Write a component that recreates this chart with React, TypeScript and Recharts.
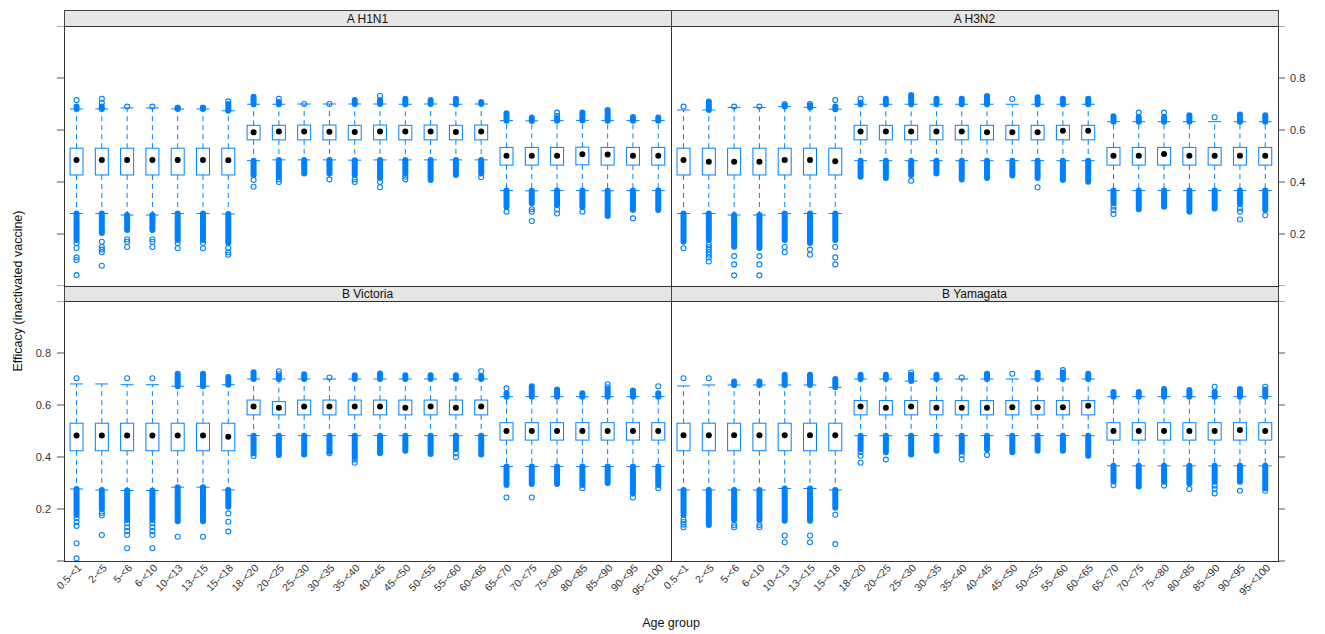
import React from "react";
import { ComposedChart, Bar, XAxis, YAxis } from "recharts";

const AGE_GROUPS = [
  "0.5-<1", "2-<5", "5-<6", "6-<10", "10-<13", "13-<15", "15-<18",
  "18-<20", "20-<25", "25-<30", "30-<35", "35-<40", "40-<45", "45-<50",
  "50-<55", "55-<60", "60-<65", "65-<70", "70-<75", "75-<80", "80-<85",
  "85-<90", "90-<95", "95-<100",
];

const PANEL_TITLES = ["A H1N1", "A H3N2", "B Victoria", "B Yamagata"];
const Y_TICKS = [0, 0.2, 0.4, 0.6, 0.8, 1];

// [lower whisker, Q1, median, Q3, upper whisker]
type Stat = [number, number, number, number, number];

const H1N1_STATS: Stat[] = [
  [0.279, 0.427, 0.485, 0.53, 0.681], [0.279, 0.427, 0.485, 0.53, 0.681],
  [0.273, 0.427, 0.485, 0.53, 0.685], [0.273, 0.427, 0.485, 0.53, 0.685],
  [0.279, 0.427, 0.485, 0.53, 0.681], [0.279, 0.427, 0.485, 0.53, 0.681],
  [0.277, 0.427, 0.484, 0.53, 0.674],
  [0.482, 0.562, 0.591, 0.618, 0.699], [0.485, 0.562, 0.594, 0.618, 0.699],
  [0.485, 0.562, 0.594, 0.619, 0.7], [0.485, 0.562, 0.593, 0.619, 0.7],
  [0.484, 0.562, 0.592, 0.618, 0.7], [0.485, 0.562, 0.594, 0.619, 0.7],
  [0.485, 0.562, 0.594, 0.618, 0.699], [0.485, 0.562, 0.594, 0.619, 0.7],
  [0.485, 0.562, 0.592, 0.618, 0.699], [0.485, 0.562, 0.594, 0.619, 0.7],
  [0.367, 0.465, 0.501, 0.533, 0.636], [0.366, 0.465, 0.501, 0.533, 0.635],
  [0.367, 0.465, 0.501, 0.533, 0.636], [0.367, 0.466, 0.507, 0.534, 0.637],
  [0.366, 0.465, 0.506, 0.533, 0.636], [0.367, 0.465, 0.501, 0.533, 0.636],
  [0.367, 0.465, 0.501, 0.533, 0.636],
];
// [end of dense low outlier band, end of dense high outlier band]
const H1N1_BANDS: [number, number][] = [
  [0.177, 0.69], [0.204, 0.69], [0.215, 0.688], [0.215, 0.688], [0.177, 0.686],
  [0.177, 0.686], [0.165, 0.7], [0.427, 0.728], [0.42, 0.708], [0.433, 0.703],
  [0.433, 0.703], [0.427, 0.715], [0.415, 0.715], [0.433, 0.72], [0.408, 0.715],
  [0.427, 0.72], [0.433, 0.708], [0.305, 0.664], [0.318, 0.648], [0.311, 0.645],
  [0.305, 0.667], [0.269, 0.677], [0.292, 0.65], [0.292, 0.648],
];
const H1N1_POINTS: number[][] = [
  [0.715, 0.165, 0.146, 0.11, 0.1, 0.042], [0.72, 0.705, 0.17, 0.15, 0.14, 0.13, 0.078],
  [0.69, 0.18, 0.17, 0.15], [0.69, 0.18, 0.17, 0.15], [0.685, 0.165, 0.145],
  [0.685, 0.165, 0.145], [0.71, 0.146, 0.13, 0.12], [0.408, 0.382],
  [0.72, 0.41, 0.4], [0.7], [0.7, 0.41], [0.41, 0.4], [0.731, 0.4, 0.38],
  [0.42, 0.41], [], [], [0.418], [0.286], [0.295, 0.286, 0.25],
  [0.667, 0.654, 0.294, 0.279], [0.286], [], [0.26], [],
];

const H3N2_STATS: Stat[] = [
  [0.279, 0.427, 0.485, 0.53, 0.677], [0.279, 0.427, 0.478, 0.53, 0.677],
  [0.273, 0.427, 0.478, 0.53, 0.687], [0.273, 0.427, 0.478, 0.53, 0.687],
  [0.279, 0.427, 0.485, 0.53, 0.69], [0.279, 0.427, 0.485, 0.53, 0.687],
  [0.279, 0.427, 0.48, 0.53, 0.68],
  [0.482, 0.562, 0.594, 0.618, 0.699], [0.482, 0.562, 0.594, 0.618, 0.699],
  [0.482, 0.562, 0.594, 0.618, 0.699], [0.482, 0.562, 0.594, 0.618, 0.699],
  [0.482, 0.562, 0.594, 0.618, 0.699], [0.482, 0.562, 0.591, 0.618, 0.699],
  [0.482, 0.562, 0.591, 0.618, 0.699], [0.482, 0.562, 0.591, 0.618, 0.699],
  [0.482, 0.562, 0.597, 0.618, 0.699], [0.482, 0.562, 0.597, 0.618, 0.699],
  [0.367, 0.465, 0.501, 0.533, 0.632], [0.367, 0.465, 0.501, 0.533, 0.632],
  [0.367, 0.465, 0.508, 0.533, 0.632], [0.367, 0.465, 0.501, 0.533, 0.632],
  [0.367, 0.465, 0.501, 0.533, 0.632], [0.367, 0.465, 0.501, 0.533, 0.632],
  [0.367, 0.465, 0.501, 0.533, 0.632],
];
const H3N2_BANDS: [number, number][] = [
  [0.17, 0.677], [0.177, 0.71], [0.151, 0.687], [0.146, 0.687], [0.177, 0.695],
  [0.165, 0.695], [0.177, 0.69], [0.42, 0.705], [0.415, 0.72], [0.427, 0.735],
  [0.433, 0.72], [0.41, 0.72], [0.415, 0.728], [0.425, 0.699], [0.415, 0.726],
  [0.408, 0.72], [0.401, 0.72], [0.318, 0.653], [0.295, 0.65], [0.305, 0.65],
  [0.286, 0.657], [0.298, 0.632], [0.315, 0.66], [0.292, 0.657],
];
const H3N2_POINTS: number[][] = [
  [0.69, 0.145], [0.16, 0.15, 0.14, 0.13, 0.12, 0.11, 0.094],
  [0.69, 0.115, 0.083, 0.041], [0.69, 0.115, 0.083, 0.041], [0.7, 0.15, 0.13],
  [0.7, 0.14, 0.12], [0.715, 0.15, 0.11, 0.083], [0.72], [], [0.405], [], [],
  [0.731], [0.719], [0.38], [], [], [0.305, 0.292, 0.277], [0.667], [0.667], [],
  [0.649], [0.298, 0.286, 0.256], [0.272],
];

const VICTORIA_STATS: Stat[] = [
  [0.277, 0.424, 0.483, 0.53, 0.681], [0.273, 0.424, 0.483, 0.53, 0.681],
  [0.271, 0.424, 0.483, 0.53, 0.678], [0.271, 0.424, 0.483, 0.53, 0.678],
  [0.284, 0.424, 0.483, 0.53, 0.672], [0.284, 0.424, 0.483, 0.53, 0.672],
  [0.273, 0.424, 0.478, 0.53, 0.678],
  [0.482, 0.562, 0.594, 0.619, 0.7], [0.482, 0.562, 0.589, 0.613, 0.7],
  [0.482, 0.562, 0.594, 0.619, 0.7], [0.482, 0.562, 0.594, 0.619, 0.7],
  [0.482, 0.562, 0.594, 0.619, 0.7], [0.482, 0.562, 0.594, 0.619, 0.7],
  [0.482, 0.562, 0.589, 0.619, 0.7], [0.482, 0.562, 0.594, 0.619, 0.7],
  [0.482, 0.562, 0.589, 0.619, 0.7], [0.482, 0.562, 0.594, 0.619, 0.7],
  [0.363, 0.465, 0.5, 0.532, 0.632], [0.363, 0.465, 0.5, 0.532, 0.632],
  [0.363, 0.465, 0.5, 0.532, 0.632], [0.363, 0.465, 0.5, 0.532, 0.632],
  [0.363, 0.465, 0.5, 0.532, 0.632], [0.363, 0.465, 0.5, 0.532, 0.632],
  [0.363, 0.465, 0.5, 0.532, 0.632],
];
const VICTORIA_BANDS: [number, number][] = [
  [0.177, 0.681], [0.2, 0.681], [0.158, 0.678], [0.158, 0.678], [0.153, 0.72],
  [0.153, 0.72], [0.209, 0.708], [0.414, 0.726], [0.408, 0.712], [0.41, 0.718],
  [0.42, 0.7], [0.4, 0.714], [0.414, 0.721], [0.424, 0.714], [0.412, 0.714],
  [0.43, 0.714], [0.41, 0.712], [0.292, 0.645], [0.296, 0.672], [0.296, 0.66],
  [0.292, 0.645], [0.3, 0.66], [0.26, 0.656], [0.292, 0.645],
];
const VICTORIA_POINTS: number[][] = [
  [0.703, 0.165, 0.15, 0.135, 0.068, 0.01], [0.185, 0.175, 0.1],
  [0.703, 0.145, 0.13, 0.115, 0.1, 0.049], [0.703, 0.145, 0.13, 0.115, 0.1, 0.049],
  [0.093], [0.093], [0.183, 0.151, 0.113], [0.404], [0.73, 0.718], [],
  [0.706, 0.414], [0.39, 0.378], [], [], [], [0.414, 0.4], [0.73],
  [0.664, 0.244], [0.244], [], [0.28], [0.68, 0.668], [0.244], [0.672, 0.28],
];

const YAMAGATA_STATS: Stat[] = [
  [0.273, 0.424, 0.484, 0.53, 0.673], [0.273, 0.424, 0.484, 0.53, 0.677],
  [0.273, 0.424, 0.484, 0.53, 0.677], [0.273, 0.424, 0.484, 0.53, 0.677],
  [0.279, 0.424, 0.484, 0.53, 0.677], [0.279, 0.424, 0.484, 0.53, 0.677],
  [0.273, 0.424, 0.484, 0.53, 0.668],
  [0.482, 0.562, 0.594, 0.617, 0.7], [0.482, 0.562, 0.589, 0.617, 0.7],
  [0.482, 0.562, 0.594, 0.617, 0.692], [0.482, 0.562, 0.589, 0.617, 0.7],
  [0.482, 0.562, 0.589, 0.617, 0.7], [0.482, 0.562, 0.589, 0.617, 0.7],
  [0.482, 0.562, 0.591, 0.617, 0.7], [0.482, 0.562, 0.591, 0.617, 0.7],
  [0.482, 0.562, 0.591, 0.617, 0.7], [0.482, 0.562, 0.597, 0.617, 0.7],
  [0.366, 0.465, 0.5, 0.532, 0.632], [0.366, 0.465, 0.5, 0.532, 0.632],
  [0.366, 0.465, 0.5, 0.532, 0.632], [0.366, 0.465, 0.5, 0.532, 0.632],
  [0.366, 0.465, 0.5, 0.532, 0.632], [0.366, 0.465, 0.504, 0.532, 0.632],
  [0.366, 0.465, 0.5, 0.532, 0.632],
];
const YAMAGATA_BANDS: [number, number][] = [
  [0.177, 0.673], [0.138, 0.677], [0.158, 0.69], [0.158, 0.69], [0.155, 0.716],
  [0.155, 0.716], [0.205, 0.7], [0.43, 0.716], [0.418, 0.716], [0.41, 0.716],
  [0.424, 0.716], [0.42, 0.7], [0.43, 0.72], [0.418, 0.7], [0.424, 0.724],
  [0.424, 0.725], [0.405, 0.72], [0.306, 0.65], [0.287, 0.65], [0.305, 0.662],
  [0.298, 0.658], [0.305, 0.65], [0.305, 0.662], [0.28, 0.66],
];
const YAMAGATA_POINTS: number[][] = [
  [0.703, 0.16, 0.15, 0.14, 0.13], [0.703], [0.138, 0.13], [0.138, 0.13],
  [0.098, 0.072], [0.098, 0.072], [0.178, 0.065], [0.418, 0.405, 0.378],
  [0.39], [0.725], [], [0.706, 0.408, 0.39], [0.408], [0.72], [], [0.734], [],
  [0.291], [], [0.29], [0.277], [0.67, 0.29, 0.277, 0.26], [0.27], [0.67, 0.27],
];

const BLUE = "#0080ff";
const FONT = "'Liberation Sans', Arial, Helvetica, sans-serif";

function buildRows(stats: Stat[], bands: [number, number][], points: number[][]) {
  return AGE_GROUPS.map((age, i) => {
    const s = stats[i];
    const b = bands[i];
    const p = points[i];
    const all = [s[0], s[4], b[0], b[1], ...p];
    return {
      age,
      range: [Math.min(...all), Math.max(...all)],
      stats: s,
      band: b,
      points: p,
    };
  });
}

const BoxShape = (props: any) => {
  const { x, y, width, height } = props;
  const d = props.payload ?? props;
  if (!d || !d.range) return <g />;
  const [vMin, vMax] = d.range;
  const top = Math.min(y, y + height);
  const bottom = Math.max(y, y + height);
  const py = (v: number) => bottom - ((v - vMin) / (vMax - vMin)) * (bottom - top);
  const cx = x + width / 2;
  const hw = 6.5;
  const [wLo, q1, med, q3, wHi] = d.stats;
  const [bLo, bHi] = d.band;
  return (
    <g>
      <line x1={cx} x2={cx} y1={py(q3)} y2={py(wHi)} stroke={BLUE} strokeDasharray="5 4" />
      <line x1={cx} x2={cx} y1={py(q1)} y2={py(wLo)} stroke={BLUE} strokeDasharray="5 4" />
      <line x1={cx - hw} x2={cx + hw} y1={py(wHi)} y2={py(wHi)} stroke={BLUE} />
      <line x1={cx - hw} x2={cx + hw} y1={py(wLo)} y2={py(wLo)} stroke={BLUE} />
      {bLo < wLo - 0.003 && (
        <line x1={cx} x2={cx} y1={py(wLo)} y2={py(bLo)} stroke={BLUE} strokeWidth={6} strokeLinecap="round" />
      )}
      {bHi > wHi + 0.003 && (
        <line x1={cx} x2={cx} y1={py(wHi)} y2={py(bHi)} stroke={BLUE} strokeWidth={6} strokeLinecap="round" />
      )}
      {d.points.map((v: number, k: number) => (
        <circle key={k} cx={cx} cy={py(v)} r={2.5} fill="none" stroke={BLUE} strokeWidth={1.1} />
      ))}
      <rect x={cx - hw} y={py(q3)} width={hw * 2} height={py(q1) - py(q3)} fill="#fff" stroke={BLUE} />
      <circle cx={cx} cy={py(med)} r={3} fill="#000" />
    </g>
  );
};

const XTick = (props: any) => {
  const { x, y, payload } = props;
  return (
    <g transform={`translate(${x + 3},${y})`}>
      <text transform="rotate(-45)" textAnchor="end" dy="0.35em" fontSize={10.5} fill="#333" fontFamily={FONT}>
        {payload.value}
      </text>
    </g>
  );
};

const makeYTick = (show: boolean, side: "left" | "right") => (props: any) => {
  const { x, y, payload } = props;
  const v = payload.value;
  if (!show || v === 0 || v === 1) return <g />;
  return (
    <text x={x} y={y} dy={4} textAnchor={side === "left" ? "end" : "start"} fontSize={11} fill="#333" fontFamily={FONT}>
      {v.toFixed(1)}
    </text>
  );
};

const PW = 607;
const PH = 260;
const AXW = 40;

function Panel(props: { rows: any[]; left: number; top: number; side: "left" | "right"; showY: boolean; showX: boolean }) {
  const { rows, left, top, side, showY, showX } = props;
  // keep AXW of room on both sides so rotated labels are never clipped
  const width = PW + AXW * 2;
  const height = PH + (showX ? 60 : 0);
  const chartLeft = left - AXW;
  const margin = side === "left"
    ? { top: 0, right: AXW, bottom: 0, left: 0 }
    : { top: 0, right: 0, bottom: 0, left: AXW };
  return (
    <div style={{ position: "absolute", left: chartLeft, top, width, height }}>
      <ComposedChart width={width} height={height} data={rows} margin={margin} barCategoryGap="10%" style={{ overflow: "visible" }}>
        <XAxis dataKey="age" hide={!showX} interval={0} tick={<XTick />} tickLine={false} axisLine={false} height={60} tickSize={0} tickMargin={5} />
        <YAxis
          orientation={side}
          width={AXW}
          type="number"
          domain={[0, 1]}
          ticks={Y_TICKS}
          interval={0}
          tick={makeYTick(showY, side)}
          tickLine={{ stroke: "#555" }}
          tickSize={7}
          tickMargin={side === "left" ? 6 : 5}
          axisLine={false}
          allowDataOverflow
        />
        <Bar dataKey="range" shape={BoxShape} isAnimationActive={false} />
      </ComposedChart>
    </div>
  );
}

const h1n1Rows = buildRows(H1N1_STATS, H1N1_BANDS, H1N1_POINTS);
const h3n2Rows = buildRows(H3N2_STATS, H3N2_BANDS, H3N2_POINTS);
const victoriaRows = buildRows(VICTORIA_STATS, VICTORIA_BANDS, VICTORIA_POINTS);
const yamagataRows = buildRows(YAMAGATA_STATS, YAMAGATA_BANDS, YAMAGATA_POINTS);

const L1 = 64;
const L2 = 671;
const T1 = 26;
const T2 = 301;

export default function App() {
  const strips = [
    { x: L1, y: 10, h: 16, t: PANEL_TITLES[0] },
    { x: L2, y: 10, h: 16, t: PANEL_TITLES[1] },
    { x: L1, y: 286, h: 15, t: PANEL_TITLES[2] },
    { x: L2, y: 286, h: 15, t: PANEL_TITLES[3] },
  ];
  const frames = [
    { x: L1, y: T1 },
    { x: L2, y: T1 },
    { x: L1, y: T2 },
    { x: L2, y: T2 },
  ];
  return (
    <div style={{ position: "absolute", left: 0, top: 0, width: 1325, height: 634, background: "#fff", fontFamily: FONT }}>
      <Panel rows={h1n1Rows} left={L1} top={T1} side="left" showY={false} showX={false} />
      <Panel rows={h3n2Rows} left={L2} top={T1} side="right" showY={true} showX={false} />
      <Panel rows={victoriaRows} left={L1} top={T2} side="left" showY={true} showX={true} />
      <Panel rows={yamagataRows} left={L2} top={T2} side="right" showY={false} showX={true} />
      <svg width={1325} height={634} style={{ position: "absolute", left: 0, top: 0, pointerEvents: "none" }}>
        {strips.map((s, i) => (
          <g key={i}>
            <rect x={s.x + 0.5} y={s.y + 0.5} width={PW} height={s.h} fill="#e6e6e6" stroke="#444" />
            <text x={s.x + PW / 2} y={s.y + s.h - 3.5} textAnchor="middle" fontSize={12} fill="#111" fontFamily={FONT}>
              {s.t}
            </text>
          </g>
        ))}
        {frames.map((f, i) => (
          <rect key={i} x={f.x + 0.5} y={f.y + 0.5} width={PW} height={PH} fill="none" stroke="#333" />
        ))}
        <text transform="translate(22,291) rotate(-90)" textAnchor="middle" fontSize={12.5} fill="#111" fontFamily={FONT}>
          Efficacy (inactivated vaccine)
        </text>
        <text x={671} y={627} textAnchor="middle" fontSize={12.5} fill="#111" fontFamily={FONT}>
          Age group
        </text>
      </svg>
    </div>
  );
}
